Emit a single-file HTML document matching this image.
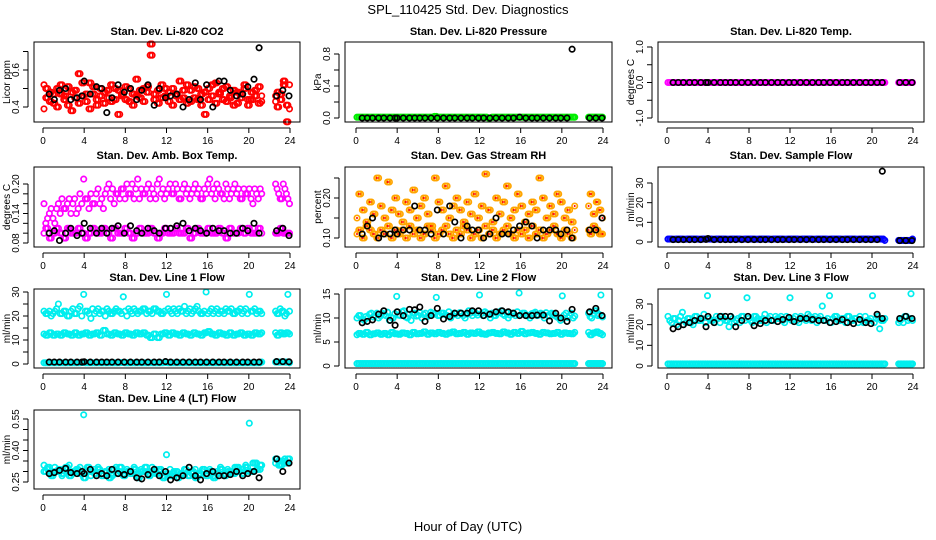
<!DOCTYPE html>
<html><head><meta charset="utf-8"><style>
html,body{margin:0;padding:0;background:#fff;}
svg{display:block;font-family:"Liberation Sans",sans-serif;}
</style></head><body>
<svg id="chart" width="936" height="540" viewBox="0 0 936 540" xmlns="http://www.w3.org/2000/svg">
<text x="468" y="14" text-anchor="middle" font-size="13">SPL_110425  Std. Dev. Diagnostics</text>
<text x="468" y="531" text-anchor="middle" font-size="13">Hour of Day (UTC)</text>
</svg>
<script>
// shared time axes (hours UTC)
const tColor = [0.1,0.45,0.8,1.15,1.5,1.85,2.2,2.55,2.9,3.25,3.6,
3.95,4.3,4.65,5.0,5.35,5.7,6.05,6.4,6.75,7.1,7.45,
7.8,8.15,8.5,8.85,9.2,9.55,9.9,10.25,10.6,10.95,11.3,
11.65,12.0,12.35,12.7,13.05,13.4,13.75,14.1,14.45,14.8,15.15,
15.5,15.85,16.2,16.55,16.9,17.25,17.6,17.95,18.3,18.65,19.0,
19.35,19.7,20.05,20.4,20.75,21.1,22.6,22.9,23.2,23.5,23.8];
const tColorB = [0.27,0.62,0.97,1.32,1.67,2.02,2.37,2.72,3.07,3.42,3.77,
4.12,4.47,4.82,5.17,5.52,5.87,6.22,6.57,6.92,7.27,7.62,
7.97,8.32,8.67,9.02,9.37,9.72,10.07,10.42,10.77,11.12,11.47,
11.82,12.17,12.52,12.87,13.22,13.57,13.92,14.27,14.62,14.97,15.32,
15.67,16.02,16.37,16.72,17.07,17.42,17.77,18.12,18.47,18.82,19.17,
19.52,19.87,20.22,20.57,20.92,21.25,22.75,23.05,23.35,23.65,23.95];
const tBlack = [0.6,1.1,1.6,2.2,2.7,3.3,3.8,4.0,4.6,5.2,5.7,6.2,6.7,7.3,7.9,8.5,9.1,9.6,10.2,10.8,11.3,11.9,12.4,13.0,13.6,14.2,14.8,15.3,15.9,16.5,17.1,17.6,18.2,18.8,19.4,19.9,20.5,21.0,22.7,23.3,23.9];
const xTicks = [0,4,8,12,16,20,24];

// CO2
const co2A = [.52,.45,.48,.42,.50,.47,.44,.51,.38,.49,.58, .46,.43,.53,.47,.41,.50,.48,.45,.52,.44,.49, .46,.51,.43,.47,.55,.45,.50,.48,.68,.44,.49, .52,.46,.43,.50,.47,.54,.45,.42,.49,.51,.44, .47,.36,.50,.46,.53,.48,.44,.51,.45,.49,.42, .47,.50,.44,.48,.46,.51,.43,.48,.47,.52,.32];
const co2B = [.39,.50,.43,.47,.40,.52,.46,.41,.48,.45,.42, .53,.47,.39,.51,.44,.46,.42,.49,.43,.50,.36, .47,.44,.50,.41,.46,.49,.43,.51,.74,.47,.42, .45,.50,.48,.41,.46,.44,.49,.52,.43,.45,.50, .41,.48,.44,.52,.42,.47,.50,.43,.46,.41,.48, .45,.52,.41,.44,.49,.42,.46,.40,.44,.54,.41];
const co2K = [.47,.44,.49,.50,.44,.45,.46,.54,.47,.51,.50,.37,.45,.52,.48,.50,.44,.49,.52,.41,.50,.45,.46,.47,.40,.44,.53,.44,.52,.40,.54,.54,.49,.46,.47,.51,.55,.72,.46,.49,.46];
// Pressure
const presG = [.01,.01,.01,.01,.01,.01,.01,.01,.01,.01,.01, .01,.01,.01,.01,.01,.01,.01,.01,.01,.01,.01, .02,.01,.01,.01,.01,.01,.01,.01,.01,.01,.01, .01,.01,.01,.01,.00,.01,.01,.01,.01,.01,.01, .01,.01,.01,.01,.01,.01,.01,.01,.01,.01,.01, .01,.01,.01,.01,.01,.01,.01,.01,.01,.01,.01];
const presK = [0,0,0,0,0,0,0,0,0,0,0,0,0,0,0,0,0,0,0,0,0,0,0,0,0,0,0,0,0.01,0,0,0,0,0,0,0,0,0.86,0,0,0];
// Li-820 temp
const tempM = [0,0,0,0,0,0,0,0,0,0,0, 0,0,0,0,0,0,0,0,0,0,0, 0,0,0,0,0,0,0,0,0,0,0, 0,0,0,0,0,0,0,0,0,0,0, 0,0,0,0,0,0,0,0,0,0,0, 0,0,0,0,0,0,0,0,0,0,0];
const tempK = [0,0,0,0,0,0,0,0,0,0,0,0,0,0,0,0,0,0,0,0,0,0,0,0,0,0,0,0,0,0,0,0,0,0,0,0,0,0,0,0,0];
// Amb box temp
const ambA = [.16,.13,.15,.12,.16,.17,.15,.17,.16,.14,.18, .21,.17,.18,.16,.19,.17,.18,.20,.19,.18,.17, .19,.20,.18,.17,.21,.19,.18,.20,.19,.17,.21, .19,.18,.20,.18,.19,.17,.20,.19,.18,.20,.19, .17,.18,.21,.19,.20,.18,.17,.19,.18,.20,.19, .17,.18,.19,.16,.18,.19,.20,.18,.17,.19,.17];
const ambA2 = [.12,.14,.13,.15,.14,.15,.16,.14,.17,.15,.16, .17,.15,.16,.18,.16,.15,.19,.17,.16,.18,.19, .17,.18,.20,.19,.17,.18,.19,.17,.18,.20,.18, .17,.19,.18,.20,.17,.19,.18,.17,.19,.18,.17, .19,.20,.18,.17,.19,.18,.20,.17,.19,.18,.17, .19,.18,.17,.19,.17,.18,.19,.17,.20,.18,.16];
const ambB = [.10,.11,.09,.10,.11,.10,.09,.11,.10,.10,.11, .10,.09,.10,.11,.10,.10,.11,.10,.09,.11,.10, .10,.11,.10,.09,.10,.11,.10,.10,.11,.10,.09, .10,.11,.10,.10,.11,.10,.10,.11,.09,.10,.11, .10,.10,.11,.10,.10,.11,.10,.09,.11,.10,.10, .11,.10,.11,.10,.10,.11,.10,.10,.11,.10,.10];
const ambK = [.10,.105,.085,.10,.11,.095,.10,.12,.11,.10,.11,.10,.11,.115,.10,.115,.105,.10,.11,.105,.10,.11,.11,.115,.12,.105,.11,.105,.10,.11,.105,.105,.10,.10,.11,.105,.12,.10,.105,.11,.095];
// Gas stream RH
const rhA = [.11,.12,.10,.13,.12,.11,.10,.12,.11,.13,.10, .12,.11,.12,.10,.13,.11,.12,.10,.11,.13,.12, .10,.11,.12,.13,.11,.10,.12,.11,.13,.12,.10, .11,.12,.10,.13,.11,.12,.10,.11,.12,.13,.11, .10,.12,.11,.12,.10,.13,.11,.12,.10,.11,.12, .13,.11,.10,.12,.11,.10,.12,.11,.13,.12,.11];
const rhB = [.15,.21,.17,.14,.19,.16,.25,.18,.15,.24,.17, .20,.16,.14,.19,.17,.22,.15,.18,.20,.16,.13, .25,.19,.17,.23,.15,.18,.20,.17,.14,.19,.16, .21,.15,.18,.26,.17,.14,.20,.16,.19,.23,.15, .17,.21,.18,.14,.16,.19,.17,.25,.20,.15,.18, .16,.21,.19,.15,.17,.14,.18,.21,.16,.19,.17];
const rhK = [.11,.13,.15,.10,.11,.11,.12,.11,.12,.12,.18,.12,.12,.11,.17,.11,.18,.14,.10,.13,.12,.12,.10,.11,.15,.11,.11,.12,.13,.14,.13,.10,.12,.12,.12,.11,.12,.10,.12,.12,.15];
// Sample flow
const sfB = [1.5,1.5,1.4,1.5,1.5,1.4,1.5,1.5,1.5,1.4,1.5, 1.5,1.5,1.4,1.5,1.5,1.5,1.4,1.5,1.5,1.5,1.4, 1.5,1.5,1.5,1.4,1.5,1.5,1.5,1.4,1.5,1.5,1.5, 1.4,1.5,1.5,1.5,1.4,1.5,1.5,1.5,1.4,1.5,1.5, 1.5,1.4,1.5,1.5,1.5,1.4,1.5,1.5,1.5,1.4,1.5, 1.5,1.5,1.4,1.5,1.5,1.5,0.8,0.8,0.8,0.8,0.8];
const sfK = [1.2,1.2,1.2,1.2,1.2,1.2,1.3,1.8,1.2,1.2,1.2,1.2,1.2,1.2,1.2,1.2,1.2,1.2,1.2,1.2,1.2,1.2,1.2,1.2,1.2,1.2,1.2,1.2,1.2,1.2,1.2,1.2,1.2,1.2,1.2,1.2,1.2,36,0.7,0.7,0.7];
// Line 1 flow
const l1A = [22,21,20,22,25,21,22,20,23,21,24, 29,22,19,21,23,22,20,22,21,23,22, 28,20,22,23,21,22,23,22,21,23,22, 21,29,22,23,21,22,24,22,21,23,22, 21,30,22,21,23,22,21,22,23,21,22, 21,23,29,22,21,22,22,21,22,20,29];
const l1A2 = [21,22,21,23,21,22,20,22,21,23,20, 22,21,23,22,21,22,23,21,22,22,21, 22,23,21,22,22,23,21,22,23,22,21, 22,23,21,22,23,22,21,23,22,24,21, 22,21,23,22,21,22,23,22,21,22,23, 22,21,22,23,22,21,21,23,22,21,22];
const l1B = [12.5,12,13,12,12.5,12,13,12.5,12,13,12, 12.5,13,12,12.5,13,12,14,12.5,12,13,12.5, 12,13,12.5,12,13,12.5,13,12,11,12.5,11, 12.5,13,12,13,12.5,12,13,12.5,12,13,12.5, 12,13,13.5,12.5,12,13,12.5,12,13,12,12.5, 13,12,12.5,12,13,12.5,13,12,13,12.5,13];
const l1C = [0.5,0.5,0.5,0.5,0.5,0.5,0.5,0.5,0.5,0.5,0.5, 0.6,0.5,0.5,0.5,0.5,0.5,0.5,0.5,0.5,0.5,0.5, 0.6,0.5,0.5,0.5,0.5,0.5,0.5,0.5,0.5,0.5,0.5, 0.5,0.6,0.5,0.5,0.5,0.5,0.5,0.5,0.5,0.5,0.5, 0.5,0.5,0.5,0.5,0.5,0.5,0.5,0.5,0.5,0.5,0.5, 0.5,0.5,0.5,0.5,0.5,0.5,0.8,0.8,0.8,0.8,0.8];
const l1K = [0.8,0.8,0.8,0.8,0.8,0.8,0.8,0.9,0.8,0.8,0.8,0.8,0.8,0.8,0.8,0.8,0.8,0.8,0.8,0.8,0.8,1.0,0.8,0.8,0.8,0.8,0.8,0.8,0.8,0.8,0.8,0.8,0.8,0.8,0.8,0.8,0.8,0.8,1.0,1.0,0.9];
// Line 2 flow
const l2A = [10,10.5,9.5,10,11,10.5,10,11,10.5,9.5,10, 14.5,10.5,11.5,10,9.5,11,10.5,10,11,10.5,11, 14.3,10.5,11,10.5,10,11,10.5,11,10,11.5,10.5, 11,14.8,10.5,11,10,10.5,11,11.5,10.5,10,11, 10.5,15.2,11,10.5,10,11,10.5,11,10,10.5,11, 10.5,10,14.6,11,10.5,10,11,10,11.5,10.5,14.8];
const l2A2 = [10.5,9.8,10.3,10.8,10.2,11,10.4,10.7,11.2,10.1,10.9, 10.6,11.3,10.2,10.8,11,10.4,11.1,10.7,10.3,11.2,10.8, 10.5,11,10.7,11.3,10.6,10.9,11.1,10.5,10.8,11,11.2, 10.6,10.9,11.3,10.7,11,10.5,11.2,10.8,11.1,10.6,10.9, 11.3,10.7,11,10.5,10.9,11.2,10.6,10.8,11.1,10.4,10.9, 10.2,9.5,10.6,10.1,11,10.4,10.3,10.9,11.5,10.7,10.2];
const l2B = [6.5,6.8,6.6,7.0,6.5,6.7,6.9,6.6,6.8,6.5,7.0, 6.7,6.6,6.9,6.8,6.5,7.0,6.7,6.8,7.1,6.6,6.9, 6.7,7.0,6.8,6.6,6.9,7.1,6.7,6.8,7.0,6.6,6.9, 6.8,7.1,6.7,6.6,6.9,7.0,6.8,6.7,7.1,6.9,6.6, 7.0,6.8,7.2,6.7,6.9,7.0,6.8,6.6,7.0,6.9,6.7, 6.8,7.0,6.6,6.9,6.8,6.7,7.0,6.5,6.9,7.1,6.8];
const l2C = [0.5,0.5,0.5,0.5,0.5,0.5,0.5,0.5,0.5,0.5,0.5, 0.5,0.5,0.5,0.5,0.5,0.5,0.5,0.5,0.5,0.5,0.5, 0.5,0.5,0.5,0.5,0.5,0.5,0.5,0.5,0.5,0.5,0.5, 0.5,0.5,0.5,0.5,0.5,0.5,0.5,0.5,0.5,0.5,0.5, 0.5,0.5,0.5,0.5,0.5,0.5,0.5,0.5,0.5,0.5,0.5, 0.5,0.5,0.5,0.5,0.5,0.5,0.5,0.5,0.5,0.5,0.5];
const l2K = [9,9.3,9.6,10.8,11.5,9.5,8.5,11.3,10.5,11.8,11.7,12.3,9.3,10.5,12,9.8,10.3,11,11,11,11.5,11.5,10.5,10.8,11.3,11.5,11.3,11,10.5,10.5,10.5,10.6,10.6,9.4,11,10,9.3,11.8,11.3,12,10.5];
// Line 3 flow
const l3A = [24,21,23,22,26,21,23,20,24,22,25, 34,22,21,23,24,22,19,23,22,21,24, 33,22,24,23,22,25,23,22,24,23,22, 24,33,23,22,24,23,25,22,24,23,29, 22,34,23,24,22,23,24,22,23,21,22, 24,22,34,23,18,22,21,23,24,22,35];
const l3A2 = [22,23,20,24,22,23,21,24,22,23,21, 23,22,24,21,23,22,24,21,23,24,22, 23,21,24,22,23,21,24,22,23,24,21, 23,22,24,21,23,22,24,23,21,24,22, 23,21,24,22,23,21,24,22,23,24,21, 22,23,21,24,22,23,22,21,24,23,22];
const l3B = [1,1,1,1,1,1,1,1,1,1,1, 1,1,1,1,1,1,1,1,1,1,1, 1,1,1,1,1,1,1,1,1,1,1, 1,1,1,1,1,1,1,1,1,1,1, 1,1,1,1,1,1,1,1,1,1,1, 1,1,1,1,1,1,1,1,1,1,1];
const l3K = [18,19,20,21,22,23,19,24,21,24,24,24,19,22,24,19.5,20.5,22,22,21.5,22.5,23.5,21.5,23,23,22.5,22,22,21,21.5,22.5,21,20.5,22.5,21,20.5,25,23,23,24,23];
// Line 4 flow
const l4A = [.33,.31,.29,.32,.30,.28,.31,.33,.29,.30,.32, .57,.30,.28,.31,.32,.29,.30,.31,.28,.32,.30, .29,.31,.30,.32,.28,.31,.30,.29,.32,.31,.30, .28,.38,.31,.29,.30,.28,.31,.30,.29,.31,.28, .30,.29,.31,.28,.30,.32,.29,.31,.30,.29,.32, .31,.33,.53,.30,.34,.31,.34,.35,.33,.36,.34];
const l4A2 = [.30,.32,.28,.30,.31,.29,.32,.28,.30,.31,.29, .27,.32,.30,.29,.31,.28,.30,.27,.31,.29,.32, .28,.30,.29,.31,.27,.30,.32,.28,.30,.29,.31, .27,.29,.28,.30,.27,.29,.31,.28,.30,.27,.29, .31,.28,.30,.27,.29,.31,.28,.30,.29,.32,.30, .29,.32,.30,.34,.31,.33,.36,.33,.35,.34,.36];
const l4K = [.29,.295,.305,.315,.295,.29,.30,.29,.31,.28,.29,.28,.31,.29,.285,.30,.27,.265,.285,.31,.28,.30,.26,.27,.28,.32,.28,.26,.29,.30,.28,.28,.285,.30,.28,.29,.30,.27,.36,.30,.34];

const NS = "http://www.w3.org/2000/svg";
const svg = document.getElementById('chart');
function mk(tag, attrs, parent){ const e=document.createElementNS(NS,tag); for(const k in attrs) e.setAttribute(k,attrs[k]); (parent||svg).appendChild(e); return e; }

const cols=[{bl:34,br:300,x0:43,x24:290},{bl:345,br:612,x0:356,x24:603},{bl:658,br:924,x0:667,x24:913}];
const rows=[{top:42,bot:122,title:35},{top:167,bot:247,title:159},{top:289,bot:368,title:281},{top:410,bot:489,title:402}];

function panel(p){
  const c=cols[p.col], r=rows[p.row];
  const g=mk('g',{});
  
  
  const xS=v=>c.x0+(v/24)*(c.x24-c.x0);
  const yS=v=>p.py0+(v-p.v0)/(p.v1-p.v0)*(p.py1-p.py0);
  const t=mk('text',{x:(c.bl+c.br)/2,y:r.title,'text-anchor':'middle','font-size':11,'font-weight':'bold'},g);
  t.textContent=p.title;
  
  
  p.series.forEach(s=>{
    const xs=s.k?tBlack:(s.b?tColorB:tColor);
    const n=Math.min(xs.length,s.vals.length);
    const passes=s.dbl?2:1;
    for(let pass=0;pass<passes;pass++){
      const xx=pass?tColorB:xs;
      for(let i=0;i<n;i++){
        const v=pass?s.vals[(i+1)%n]:s.vals[i];
        const cx=xS(xx[i]).toFixed(1), cy=yS(v).toFixed(1);
        const ci=mk('circle',{cx:cx,cy:cy,r:2.7,fill:'none',stroke:s.color,'stroke-width':1.7},g);
        
        
        if(s.dot){ mk('circle',{cx:cx,cy:cy,r:1,fill:s.dot},g); }
      }
    }
  });
  const box=mk('rect',{x:c.bl,y:r.top,width:c.br-c.bl,height:r.bot-r.top,fill:'none',stroke:'#000','stroke-width':1},g);
  
  
  const ax=r.bot+6;
  mk('line',{x1:xS(0),x2:xS(24),y1:ax,y2:ax,stroke:'#000'},g);
  xTicks.forEach(v=>{
    mk('line',{x1:xS(v),x2:xS(v),y1:ax,y2:ax+5,stroke:'#000'},g);
    const tl=mk('text',{x:xS(v),y:ax+16,'text-anchor':'middle','font-size':10},g);
    tl.textContent=v;
    
    
  });
  const ay=c.bl-6;
  mk('line',{x1:ay,x2:ay,y1:yS(p.yt[0]),y2:yS(p.yt[p.yt.length-1]),stroke:'#000'},g);
  p.yt.forEach((v,i)=>{
    const y=yS(v);
    mk('line',{x1:ay-5,x2:ay,y1:y,y2:y,stroke:'#000'},g);
    if(p.yl[i]!==''){
      const tl=mk('text',{x:ay-9,y:y,'text-anchor':'middle','font-size':10,transform:`rotate(-90 ${ay-9} ${y})`},g);
      tl.textContent=p.yl[i];
      
      
    }
  });
  const ym=(r.top+r.bot)/2;
  const yl=mk('text',{x:c.bl-24,y:ym,'text-anchor':'middle','font-size':10,transform:`rotate(-90 ${c.bl-24} ${ym})`},g);
  yl.textContent=p.ylab;
  
  
}

const RED='#ff0000',K='#000',CY='#00eeee',MG='#ff00ff',OR='#ffa500';
panel({name:'co2-panel',title:'Stan. Dev. Li-820 CO2',ylab:'Licor ppm',col:0,row:0,v0:0.4,py0:107,v1:0.6,py1:70,
  yt:[0.4,0.5,0.6,0.7],yl:['0.4','','0.6',''],series:[{vals:co2A,color:RED,dbl:1},{vals:co2B,color:RED,dbl:1},{vals:co2K,color:K,k:1}]});
panel({name:'pressure-panel',title:'Stan. Dev. Li-820 Pressure',ylab:'kPa',col:1,row:0,v0:0,py0:118,v1:0.8,py1:54,
  yt:[0,0.2,0.4,0.6,0.8],yl:['0.0','','0.4','','0.8'],series:[{vals:presG,color:'#00ee00',dbl:1},{vals:presK,color:K,k:1}]});
panel({name:'licor-temp-panel',title:'Stan. Dev. Li-820 Temp.',ylab:'degrees C',col:2,row:0,v0:-1,py0:118,v1:1,py1:47,
  yt:[-1,-0.5,0,0.5,1],yl:['-1.0','','0.0','','1.0'],series:[{vals:tempM,color:MG,dbl:1},{vals:tempK,color:K,k:1}]});
panel({name:'amb-box-temp-panel',title:'Stan. Dev. Amb. Box Temp.',ylab:'degrees C',col:0,row:1,v0:0.08,py0:243,v1:0.20,py1:184,
  yt:[0.08,0.10,0.12,0.14,0.16,0.18,0.20],yl:['0.08','','','0.14','','','0.20'],series:[{vals:ambA,color:MG},{vals:ambA2,color:MG,b:1},{vals:ambB,color:MG,dbl:1},{vals:ambK,color:K,k:1}]});
panel({name:'gas-rh-panel',title:'Stan. Dev. Gas Stream RH',ylab:'percent',col:1,row:1,v0:0.10,py0:238,v1:0.20,py1:198,
  yt:[0.10,0.15,0.20,0.25],yl:['0.10','','0.20',''],series:[{vals:rhA,color:OR,dot:RED,dbl:1},{vals:rhB,color:OR,dot:RED,dbl:1},{vals:rhK,color:K,k:1}]});
panel({name:'sample-flow-panel',title:'Stan. Dev. Sample Flow',ylab:'ml/min',col:2,row:1,v0:0,py0:242,v1:30,py1:183,
  yt:[0,10,20,30],yl:['0','10','20','30'],series:[{vals:sfB,color:'#0000ff',dbl:1},{vals:sfK,color:K,k:1}]});
panel({name:'line1-flow-panel',title:'Stan. Dev. Line 1 Flow',ylab:'ml/min',col:0,row:2,v0:0,py0:364,v1:30,py1:292,
  yt:[0,5,10,15,20,25,30],yl:['0','','10','','20','','30'],series:[{vals:l1A,color:CY},{vals:l1A2,color:CY,b:1},{vals:l1B,color:CY,dbl:1},{vals:l1C,color:CY,dbl:1},{vals:l1K,color:K,k:1}]});
panel({name:'line2-flow-panel',title:'Stan. Dev. Line 2 Flow',ylab:'ml/min',col:1,row:2,v0:0,py0:366,v1:15,py1:294,
  yt:[0,5,10,15],yl:['0','5','10','15'],series:[{vals:l2A,color:CY},{vals:l2A2,color:CY,b:1},{vals:l2B,color:CY,dbl:1},{vals:l2C,color:CY,dbl:1},{vals:l2K,color:K,k:1}]});
panel({name:'line3-flow-panel',title:'Stan. Dev. Line 3 Flow',ylab:'ml/min',col:2,row:2,v0:0,py0:366,v1:30,py1:304,
  yt:[0,10,20,30],yl:['0','10','20','30'],series:[{vals:l3A,color:CY},{vals:l3A2,color:CY,b:1},{vals:l3B,color:CY,dbl:1},{vals:l3K,color:K,k:1}]});
panel({name:'line4-flow-panel',title:'Stan. Dev. Line 4 (LT) Flow',ylab:'ml/min',col:0,row:3,v0:0.25,py0:482,v1:0.55,py1:419,
  yt:[0.25,0.30,0.35,0.40,0.45,0.50,0.55],yl:['0.25','','','0.40','','','0.55'],series:[{vals:l4A,color:CY},{vals:l4A2,color:CY,b:1},{vals:l4A2,color:CY},{vals:l4K,color:K,k:1}]});
</script>
</body></html>
